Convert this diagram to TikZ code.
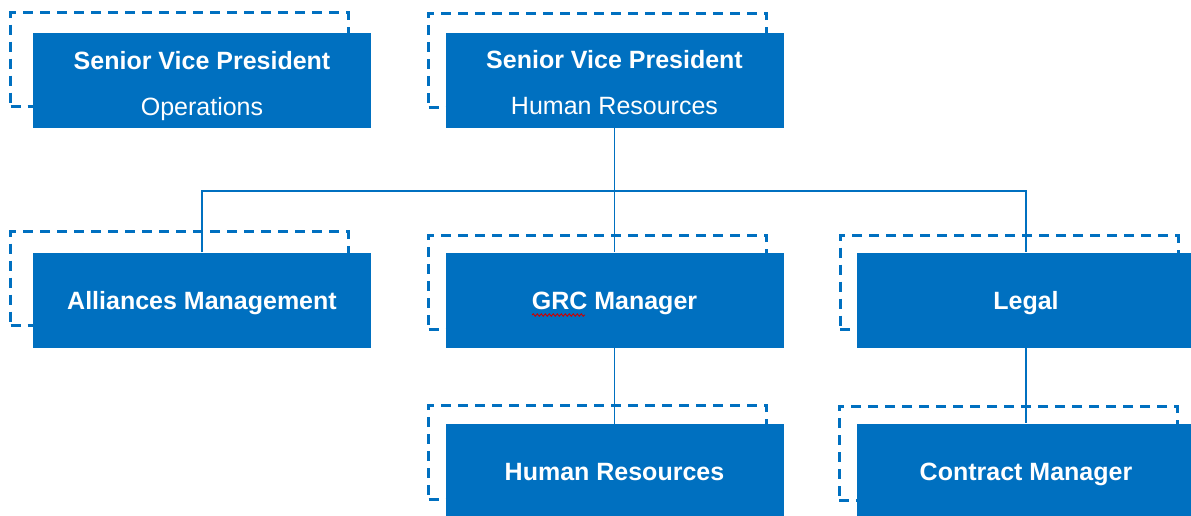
\documentclass[tikz,border=0pt]{standalone}
\usepackage{fontspec}
\setmainfont{Liberation Sans}
\usetikzlibrary{decorations.pathmorphing}
\definecolor{orgblue}{RGB}{0,112,192}
\tikzset{
  orgbox/.style={fill=orgblue, draw=none, minimum width=338pt, minimum height=95pt,
    inner sep=0pt, text=white, align=center, font=\fontsize{25}{46}\selectfont,
    text height=18pt, text depth=0pt},
  twoline/.style={text height=69pt, text depth=0pt},
  frame/.style={draw=orgblue, dash pattern=on 10pt off 7pt, line width=3pt,
    minimum width=338pt, minimum height=94pt, inner sep=0pt},
  link/.style={draw=orgblue, line width=1.6pt},
  squiggle/.style={draw=red!80!black, line width=0.9pt,
    decorate, decoration={snake, amplitude=1.2pt, segment length=4pt}}
}
\begin{document}
\begin{tikzpicture}[x=1pt,y=-1pt]
\path[use as bounding box] (0,0) rectangle (1191,515);
\clip (0,0) rectangle (1191,515);
% dashed frames
\node[frame] (fops) at (179.5,59.5) {};
\node[frame] (fsvphr) at (597.5,60) {};
\node[frame] (fall) at (179.5,278.5) {};
\node[frame] (fgrc) at (597.5,282) {};
\node[frame] (flegal) at (1009,282.5) {};
\node[frame] (fhrb) at (597.5,452) {};
\node[frame] (fcon) at (1008,453) {};
% boxes
\node[orgbox,twoline] (ops) at (202,80.5) {\textbf{Senior Vice President}\\Operations};
\node[orgbox,twoline] (svphr) at (614.5,80) {\textbf{Senior Vice President}\\Human Resources};
\node[orgbox] (all) at (202,300) {\textbf{Alliances Management}};
\node[orgbox] (grc) at (614.5,300) {\textbf{GRC Manager}};
\node[orgbox] (legal) at (1026,300) {\textbf{Legal}};
\node[orgbox] (hrb) at (614.5,471.5) {\textbf{Human Resources}};
\node[orgbox] (con) at (1026,471) {\textbf{Contract Manager}};
% connectors
\coordinate (bus) at (614.5,191);
\draw[link] (svphr.south) -- (grc.north);
\draw[link] (all.north) |- (bus) -| (legal.north);
\draw[link] (grc.south) -- (hrb.north);
\draw[link] (legal.south) -- (con.north);
% spell-check squiggle under GRC
\coordinate (sqa) at (532,315);
\coordinate (sqb) at (585,315);
\draw[squiggle] (sqa) -- (sqb);
\end{tikzpicture}
\end{document}
